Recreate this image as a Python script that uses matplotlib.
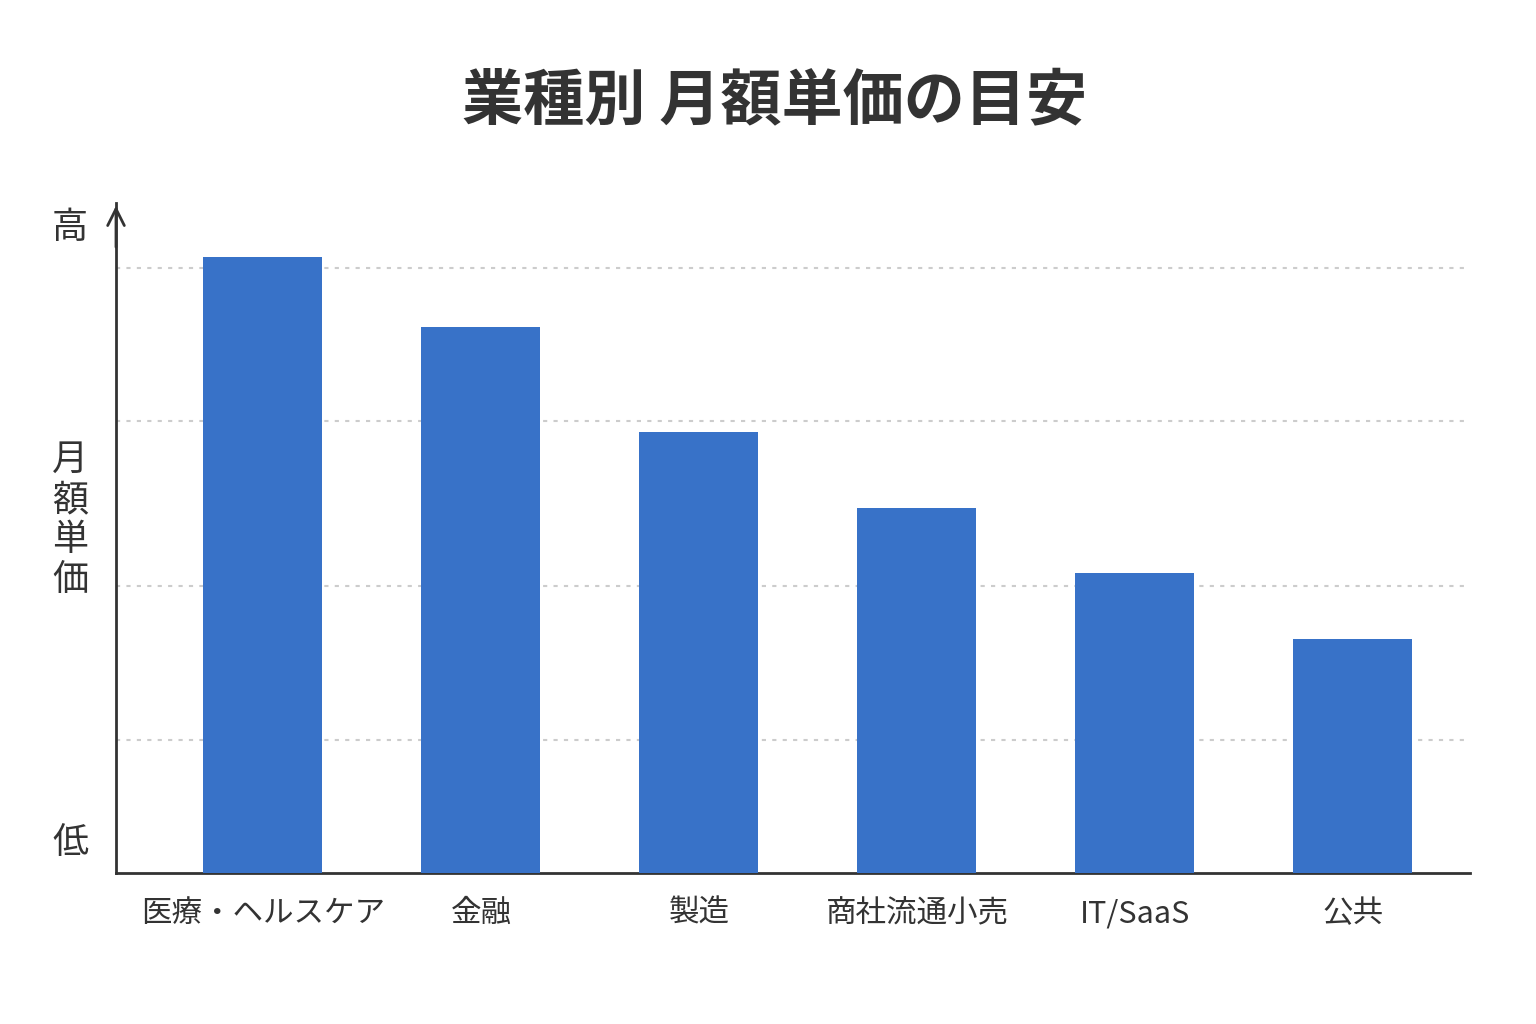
import matplotlib.pyplot as plt

plt.rcParams['font.family'] = ['Noto Sans CJK JP', 'DejaVu Sans']

categories = ["医療・ヘルスケア", "金融", "製造", "商社流通小売", "IT/SaaS", "公共"]
values = [616, 546, 441, 365, 300, 234]
grid_levels = [133, 287, 452, 605]

bar_color = "#3872C8"
text_color = "#333333"

fig = plt.figure(figsize=(15.36, 10.24), dpi=100)
fig.patch.set_facecolor("white")
ax = fig.add_axes([116 / 1536, 151 / 1024, 1354 / 1536, 670 / 1024])

x = list(range(len(categories)))
ax.bar(x, values, width=0.546, color=bar_color, zorder=3)
for g in grid_levels:
    ax.axhline(g, color="#cccccc", lw=1.5, ls=(0, (2, 3)), zorder=1)

ax.set_xlim(-0.674, 5.537)
ax.set_ylim(0, 670)
for s in ["top", "right"]:
    ax.spines[s].set_visible(False)
for s in ["left", "bottom"]:
    ax.spines[s].set_color(text_color)
    ax.spines[s].set_linewidth(2)
ax.set_yticks([])
ax.set_xticks(x)
ax.set_xticklabels(categories, fontsize=22, color=text_color)
ax.tick_params(axis="x", length=0, pad=18)

# arrow tip on y axis
ax.annotate("", xy=(0, 1.0), xytext=(0, 0.93), xycoords="axes fraction",
            arrowprops=dict(arrowstyle="->", color=text_color, lw=2, mutation_scale=30))

fig.text(775 / 1536, 1 - 102 / 1024, "業種別 月額単価の目安", ha="center", va="center",
         fontsize=44, fontweight="bold", color=text_color)
fig.text(70 / 1536, 1 - 228 / 1024, "高", ha="center", va="center", fontsize=26, color=text_color)
fig.text(70 / 1536, 1 - 843 / 1024, "低", ha="center", va="center", fontsize=26, color=text_color)
fig.text(70 / 1536, 1 - 520 / 1024, "月\n額\n単\n価", ha="center", va="center",
         fontsize=26, color=text_color, linespacing=1.15)

fig.savefig("out.png", dpi=100, facecolor="white")
